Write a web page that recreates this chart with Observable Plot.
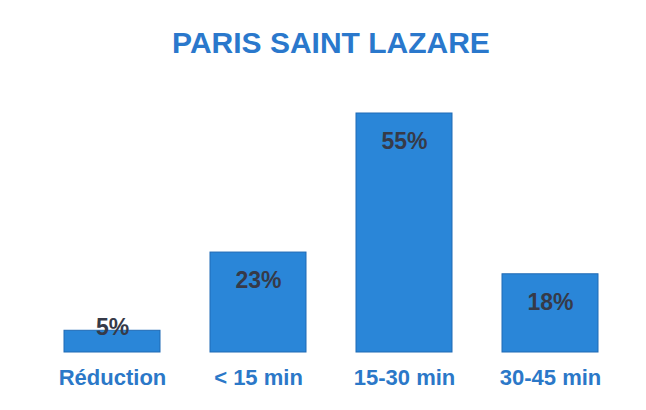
<!DOCTYPE html>
<html>
<head>
<meta charset="utf-8">
<script src="https://cdn.jsdelivr.net/npm/d3@7"></script>
<script src="https://cdn.jsdelivr.net/npm/@observablehq/plot@0.6"></script>
<style>
  html, body { margin: 0; padding: 0; background: #fff; }
  #title {
    height: 70px; box-sizing: border-box; padding-top: 28px;
    font-family: "Liberation Sans", Arial, sans-serif; font-weight: bold;
    font-size: 30px; line-height: 30px; color: #2a78cc;
    text-align: center; width: 646px; padding-left: 16px;
  }
</style>
</head>
<body>
<div id="title">PARIS SAINT LAZARE</div>
<div id="chart"></div>
<script>
const categories = ["Réduction", "< 15 min", "15-30 min", "30-45 min"];
const values = [5, 23, 55, 18];
const labels = ["5%", "23%", "55%", "18%"];

const data = categories.map((c, i) => ({category: c, value: values[i], label: labels[i]}));

const chart = Plot.plot({
  width: 646,
  height: 340,
  marginTop: 43,
  marginBottom: 58,
  marginLeft: 38,
  marginRight: 21,
  style: {fontFamily: "Liberation Sans, Arial, sans-serif", background: "transparent"},
  x: {domain: categories, paddingInner: 0.34, paddingOuter: 0.167, label: null},
  y: {domain: [0, 55], axis: null},
  marks: [
    Plot.barY(data, {x: "category", y: "value", fill: "#2a86d8", stroke: "#1f6ab5", strokeWidth: 1}),
    Plot.text(data.filter(d => d.value >= 10), {
      x: "category", y: "value", text: "label", dy: 28,
      fill: "#363a48", fontSize: 23, fontWeight: "bold", lineAnchor: "middle"
    }),
    Plot.text(data.filter(d => d.value < 10), {
      x: "category", y: "value", text: "label", dy: -3,
      fill: "#363a48", fontSize: 23, fontWeight: "bold", lineAnchor: "middle"
    }),
    Plot.axisX({tickSize: 0, tickPadding: 17, fontSize: 22, fontWeight: "bold", color: "#2b78c8", label: null})
  ]
});
document.getElementById("chart").appendChild(chart);
</script>
</body>
</html>
